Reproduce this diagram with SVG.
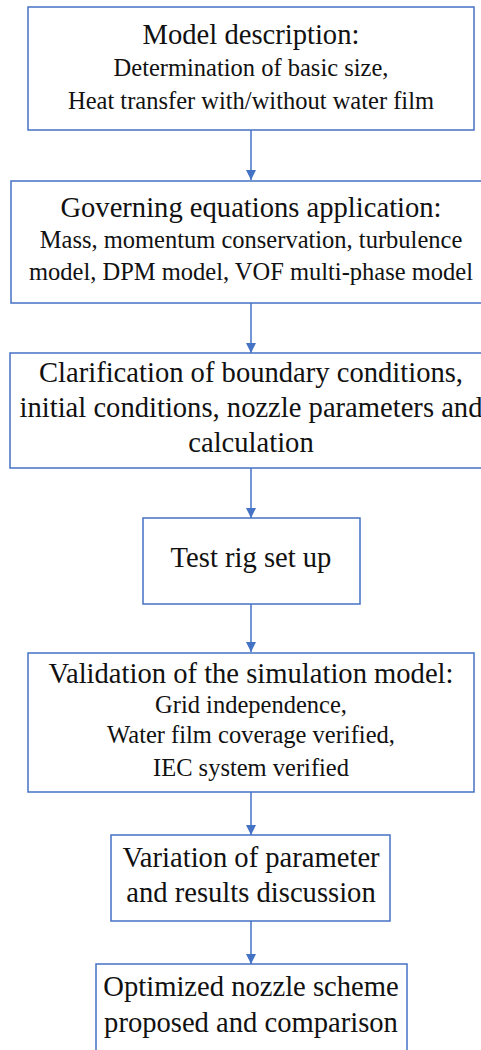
<svg xmlns="http://www.w3.org/2000/svg" width="481" height="1050" viewBox="0 0 481 1050">
<defs>
<marker id="ah" viewBox="0 0 10 10" refX="10" refY="5" markerWidth="10" markerHeight="10" markerUnits="userSpaceOnUse" orient="auto">
<path d="M0,0 L10,5 L0,10 Z" fill="#4472C4"/>
</marker>
<style>
.box{fill:#fff;stroke:#4472C4;stroke-width:1.5}
.t{font-size:28.6px;fill:#111;text-anchor:middle}
.s{font-size:24.5px;fill:#111;text-anchor:middle}
.c{stroke:#4472C4;stroke-width:1.5;fill:none}
</style>
</defs>
<rect width="481" height="1050" fill="#fff"/>
<g id="connectors">
<line class="c" x1="251" y1="130" x2="251" y2="180" marker-end="url(#ah)"/>
<line class="c" x1="251" y1="303" x2="251" y2="353" marker-end="url(#ah)"/>
<line class="c" x1="251" y1="468" x2="251" y2="518" marker-end="url(#ah)"/>
<line class="c" x1="251" y1="604" x2="251" y2="652" marker-end="url(#ah)"/>
<line class="c" x1="251" y1="792" x2="251" y2="835" marker-end="url(#ah)"/>
<line class="c" x1="251" y1="921" x2="251" y2="964" marker-end="url(#ah)"/>
</g>
<g font-family="'Liberation Serif', 'DejaVu Serif', serif">
<g id="n1">
<rect class="box" x="28" y="7" width="446" height="123"/>
<text class="t" x="251" y="44">Model description:</text>
<text class="s" x="251" y="76">Determination of basic size,</text>
<text class="s" x="251" y="109">Heat transfer with/without water film</text>
</g>
<g id="n2">
<rect class="box" x="11" y="181" width="480" height="122"/>
<text class="t" x="251" y="217">Governing equations application:</text>
<text class="s" x="251" y="248">Mass, momentum conservation, turbulence</text>
<text class="s" x="251" y="280">model, DPM model, VOF multi-phase model</text>
</g>
<g id="n3">
<rect class="box" x="10" y="353" width="481" height="115"/>
<text class="t" x="251" y="382">Clarification of boundary conditions,</text>
<text class="t" x="251" y="417">initial conditions, nozzle parameters and</text>
<text class="t" x="251" y="452">calculation</text>
</g>
<g id="n4">
<rect class="box" x="143" y="518" width="217" height="86"/>
<text class="t" x="251" y="567">Test rig set up</text>
</g>
<g id="n5">
<rect class="box" x="28" y="653" width="446" height="139"/>
<text class="t" x="251" y="683">Validation of the simulation model:</text>
<text class="s" x="251" y="713">Grid independence,</text>
<text class="s" x="251" y="743">Water film coverage verified,</text>
<text class="s" x="251" y="776">IEC system verified</text>
</g>
<g id="n6">
<rect class="box" x="111" y="835" width="279" height="86"/>
<text class="t" x="251" y="867">Variation of parameter</text>
<text class="t" x="251" y="902">and results discussion</text>
</g>
<g id="n7">
<rect class="box" x="96" y="964" width="311" height="100"/>
<text class="t" x="251" y="996">Optimized nozzle scheme</text>
<text class="t" x="251" y="1032">proposed and comparison</text>
</g>
</g>
</svg>
